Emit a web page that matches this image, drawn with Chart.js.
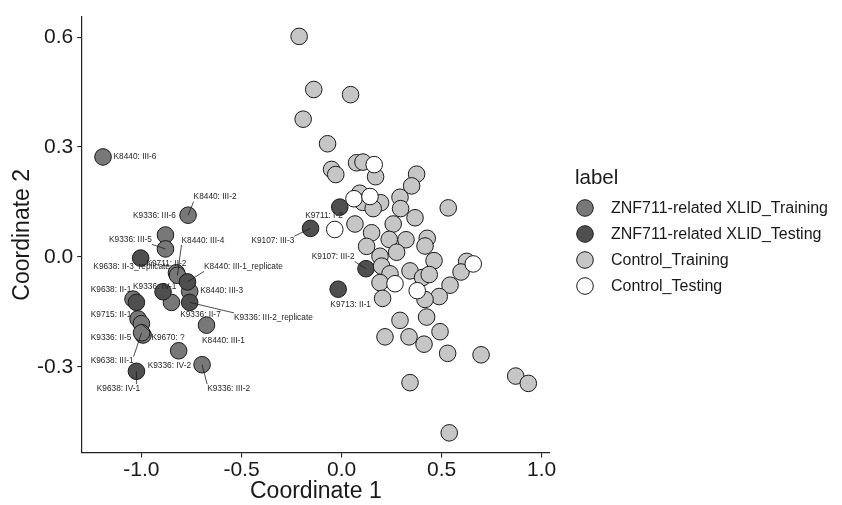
<!DOCTYPE html>
<html>
<head>
<meta charset="utf-8">
<script src="https://cdn.jsdelivr.net/npm/chart.js@4.4.1/dist/chart.umd.min.js"></script>
<style>
  html, body { margin: 0; padding: 0; background: #fff; }
  #wrap { width: 842px; height: 505px; }
</style>
</head>
<body>
<div id="wrap"><canvas id="mds" width="842" height="505"></canvas></div>
<script>
// ---- data ----
const seriesNames = ['ZNF711-related XLID_Training', 'ZNF711-related XLID_Testing', 'Control_Training', 'Control_Testing'];

const znfTrainX = [-1.192, -0.767, -0.880, -0.880, -0.825, -0.820, -0.759, -0.850, -1.042, -1.017, -1.000, -0.992, -0.999, -0.675, -0.814, -0.697];
const znfTrainY = [0.273, 0.114, 0.060, 0.022, -0.043, -0.050, -0.094, -0.124, -0.115, -0.169, -0.182, -0.213, -0.207, -0.186, -0.256, -0.294];
const znfTrainLabels = ['K8440: III-6', 'K8440: III-2', 'K9336: III-6', 'K9336: III-5', 'K9711: II-2', 'K8440: III-4',
  'K8440: III-3', 'K9336: II-7', 'K9638: II-1', 'K9715: II-1', 'K9670: ?', 'K9336: II-5', 'K9638: III-1',
  'K8440: III-1', 'K9336: IV-2', 'K9336: III-2'];

const znfTestX = [-1.004, -0.770, -0.892, -0.759, -1.025, -1.025, -0.155, -0.009, 0.122, -0.017];
const znfTestY = [-0.003, -0.068, -0.095, -0.124, -0.124, -0.312, 0.078, 0.136, -0.032, -0.088];
const znfTestLabels = ['K9638: II-3_replicate', 'K8440: III-1_replicate', 'K9336: IV-1', 'K9336: III-2_replicate', '',
  'K9638: IV-1', 'K9107: III-3', 'K9711: I-2', 'K9107: III-2', 'K9713: II-1'];

const ctrlTrainX = [-0.212, -0.139, 0.045, -0.192, -0.070, -0.050, -0.029, 0.075, 0.107, 0.170, 0.375, 0.350, 0.292, 0.295,
  0.533, 0.091, 0.106, 0.195, 0.158, 0.367, 0.067, 0.258, 0.150, 0.238, 0.322, 0.428, 0.417, 0.125, 0.275, 0.192,
  0.462, 0.625, 0.597, 0.200, 0.342, 0.242, 0.405, 0.438, 0.542, 0.488, 0.192, 0.417, 0.205, 0.292, 0.425, 0.217,
  0.337, 0.492, 0.412, 0.530, 0.697, 0.342, 0.870, 0.933, 0.538];
const ctrlTrainY = [0.602, 0.457, 0.443, 0.376, 0.309, 0.239, 0.225, 0.257, 0.259, 0.219, 0.226, 0.194, 0.163, 0.132,
  0.134, 0.174, 0.149, 0.148, 0.132, 0.107, 0.090, 0.090, 0.066, 0.048, 0.047, 0.051, 0.030, 0.029, 0.013, 0.002,
  -0.010, -0.012, -0.041, -0.025, -0.038, -0.046, -0.056, -0.048, -0.077, -0.108, -0.070, -0.116, -0.113, -0.173, -0.164, -0.218,
  -0.218, -0.204, -0.238, -0.263, -0.267, -0.343, -0.325, -0.345, -0.480];

const ctrlTestX = [0.163, 0.062, 0.142, -0.034, 0.658, 0.267, 0.378];
const ctrlTestY = [0.252, 0.159, 0.165, 0.075, -0.019, -0.073, -0.092];

const xTicks = [-1.0, -0.5, 0.0, 0.5, 1.0];
const yTicks = [-0.3, 0.0, 0.3, 0.6];

// ---- label placement (pixel nudges from each point, and whether a segment is drawn) ----
const trainNudge = [[32, 0, 0], [27, -18, 1], [-11, -19, 0], [-35, -9, 1], [-10, -9.5, 0], [25.5, -35, 1],
  [32, -0.7, 0], [29, 12.3, 0], [-22, -9.4, 0], [-27, -4.4, 0], [26.6, 14, 1], [-32, 2.4, 0], [-29.5, 28.3, 1],
  [17, 15.7, 0], [-9.3, 15, 0], [26.5, 24, 1]];
const testNudge = [[-9, 9, 0], [56, -15, 1], [-8.3, -5.3, 0], [83.7, 15, 1], [0, 0, 0],
  [-18, 17.3, 1], [-37.7, 12.3, 1], [-15.8, 9, 0], [-32.7, -11.7, 1], [12.5, 15.6, 0]];

const FONT = '"Liberation Sans", Arial, Helvetica, sans-serif';
const fills = ['#787878', '#4f4f4f', '#c6c6c6', '#ffffff'];

function toPoints(xs, ys) {
    return xs.map((x, i) => ({ x: x, y: ys[i] }));
}

// repel-style text labels with leader segments
const pointLabels = {
    id: 'pointLabels',
    afterDatasetsDraw(chart) {
        const ctx = chart.ctx;
        ctx.save();
        ctx.font = '8.3px ' + FONT;
        ctx.textAlign = 'center';
        ctx.textBaseline = 'middle';
        ctx.fillStyle = '#1e1e1e';
        ctx.strokeStyle = '#1e1e1e';
        ctx.lineWidth = 0.8;
        [[0, znfTrainLabels, trainNudge], [1, znfTestLabels, testNudge]].forEach(([di, texts, nudge]) => {
            chart.getDatasetMeta(di).data.forEach((pt, i) => {
                const txt = texts[i];
                if (!txt) return;
                const [dx, dy, seg] = nudge[i];
                const lx = pt.x + dx, ly = pt.y + dy;
                const w = ctx.measureText(txt).width, h = 9;
                if (seg) {
                    const bx = Math.max(lx - w / 2, Math.min(pt.x, lx + w / 2));
                    const by = Math.max(ly - h / 2, Math.min(pt.y, ly + h / 2));
                    ctx.beginPath();
                    ctx.moveTo(bx, by);
                    ctx.lineTo(pt.x, pt.y);
                    ctx.stroke();
                }
                ctx.fillText(txt, lx, ly);
            });
        });
        ctx.restore();
    }
};

// ggplot-like legend on the right
const sideLegend = {
    id: 'sideLegend',
    afterDraw(chart) {
        const ctx = chart.ctx;
        ctx.save();
        ctx.textAlign = 'left';
        ctx.textBaseline = 'middle';
        ctx.fillStyle = '#1a1a1a';
        ctx.font = '20.5px ' + FONT;
        ctx.fillText('label', 575, 178);
        ctx.font = '16px ' + FONT;
        chart.data.datasets.forEach((ds, i) => {
            const y = 208 + i * 26;
            ctx.beginPath();
            ctx.arc(585, y, 8.3, 0, Math.PI * 2);
            ctx.fillStyle = ds.backgroundColor;
            ctx.fill();
            ctx.lineWidth = 1;
            ctx.strokeStyle = '#1a1a1a';
            ctx.stroke();
            ctx.fillStyle = '#1a1a1a';
            ctx.fillText(ds.label, 611, y + 1);
        });
        ctx.restore();
    }
};

function makeSet(i, xs, ys) {
    return {
        label: seriesNames[i],
        data: toPoints(xs, ys),
        order: 3 - i,               // later groups sit on top, as in the original
        backgroundColor: fills[i],
        borderColor: '#1a1a1a',
        borderWidth: 1,
        pointRadius: 8.3,
        pointHoverRadius: 8.3
    };
}

const axisFont = { family: FONT, size: 21 };
const titleFont = { family: FONT, size: 23 };

new Chart(document.getElementById('mds').getContext('2d'), {
    type: 'scatter',
    data: {
        datasets: [
            makeSet(0, znfTrainX, znfTrainY),
            makeSet(1, znfTestX, znfTestY),
            makeSet(2, ctrlTrainX, ctrlTrainY),
            makeSet(3, ctrlTestX, ctrlTestY)
        ]
    },
    options: {
        responsive: false,
        animation: false,
        layout: { padding: { top: 10, right: 292, left: 0, bottom: 0 } },
        plugins: { legend: { display: false }, tooltip: { enabled: false } },
        scales: {
            x: {
                type: 'linear',
                min: -1.2985,
                max: 1.0415,
                afterBuildTicks: s => { s.ticks = xTicks.map(v => ({ value: v })); },
                afterFit: s => { s.height = 52; },
                ticks: { font: axisFont, color: '#1a1a1a', padding: 0, callback: v => v.toFixed(1), maxRotation: 0 },
                grid: { drawOnChartArea: false, drawTicks: true, tickLength: 4.5, color: '#222', tickColor: '#222', lineWidth: 1.1 },
                border: { display: true, color: '#222', width: 1.2 },
                title: { display: true, text: 'Coordinate 1', font: titleFont, color: '#1a1a1a', padding: { top: 0, bottom: 0 } }
            },
            y: {
                type: 'linear',
                min: -0.535,
                max: 0.656,
                afterBuildTicks: s => { s.ticks = yTicks.map(v => ({ value: v })); },
                afterFit: s => { s.width = 81.7; },
                ticks: { font: axisFont, color: '#1a1a1a', padding: 4, callback: v => v.toFixed(1) },
                grid: { drawOnChartArea: false, drawTicks: true, tickLength: 4.5, color: '#222', tickColor: '#222', lineWidth: 1.1 },
                border: { display: true, color: '#222', width: 1.2 },
                title: { display: true, text: 'Coordinate 2', font: titleFont, color: '#1a1a1a', padding: { top: 9, bottom: 0 } }
            }
        }
    },
    plugins: [pointLabels, sideLegend]
});
</script>
</body>
</html>
